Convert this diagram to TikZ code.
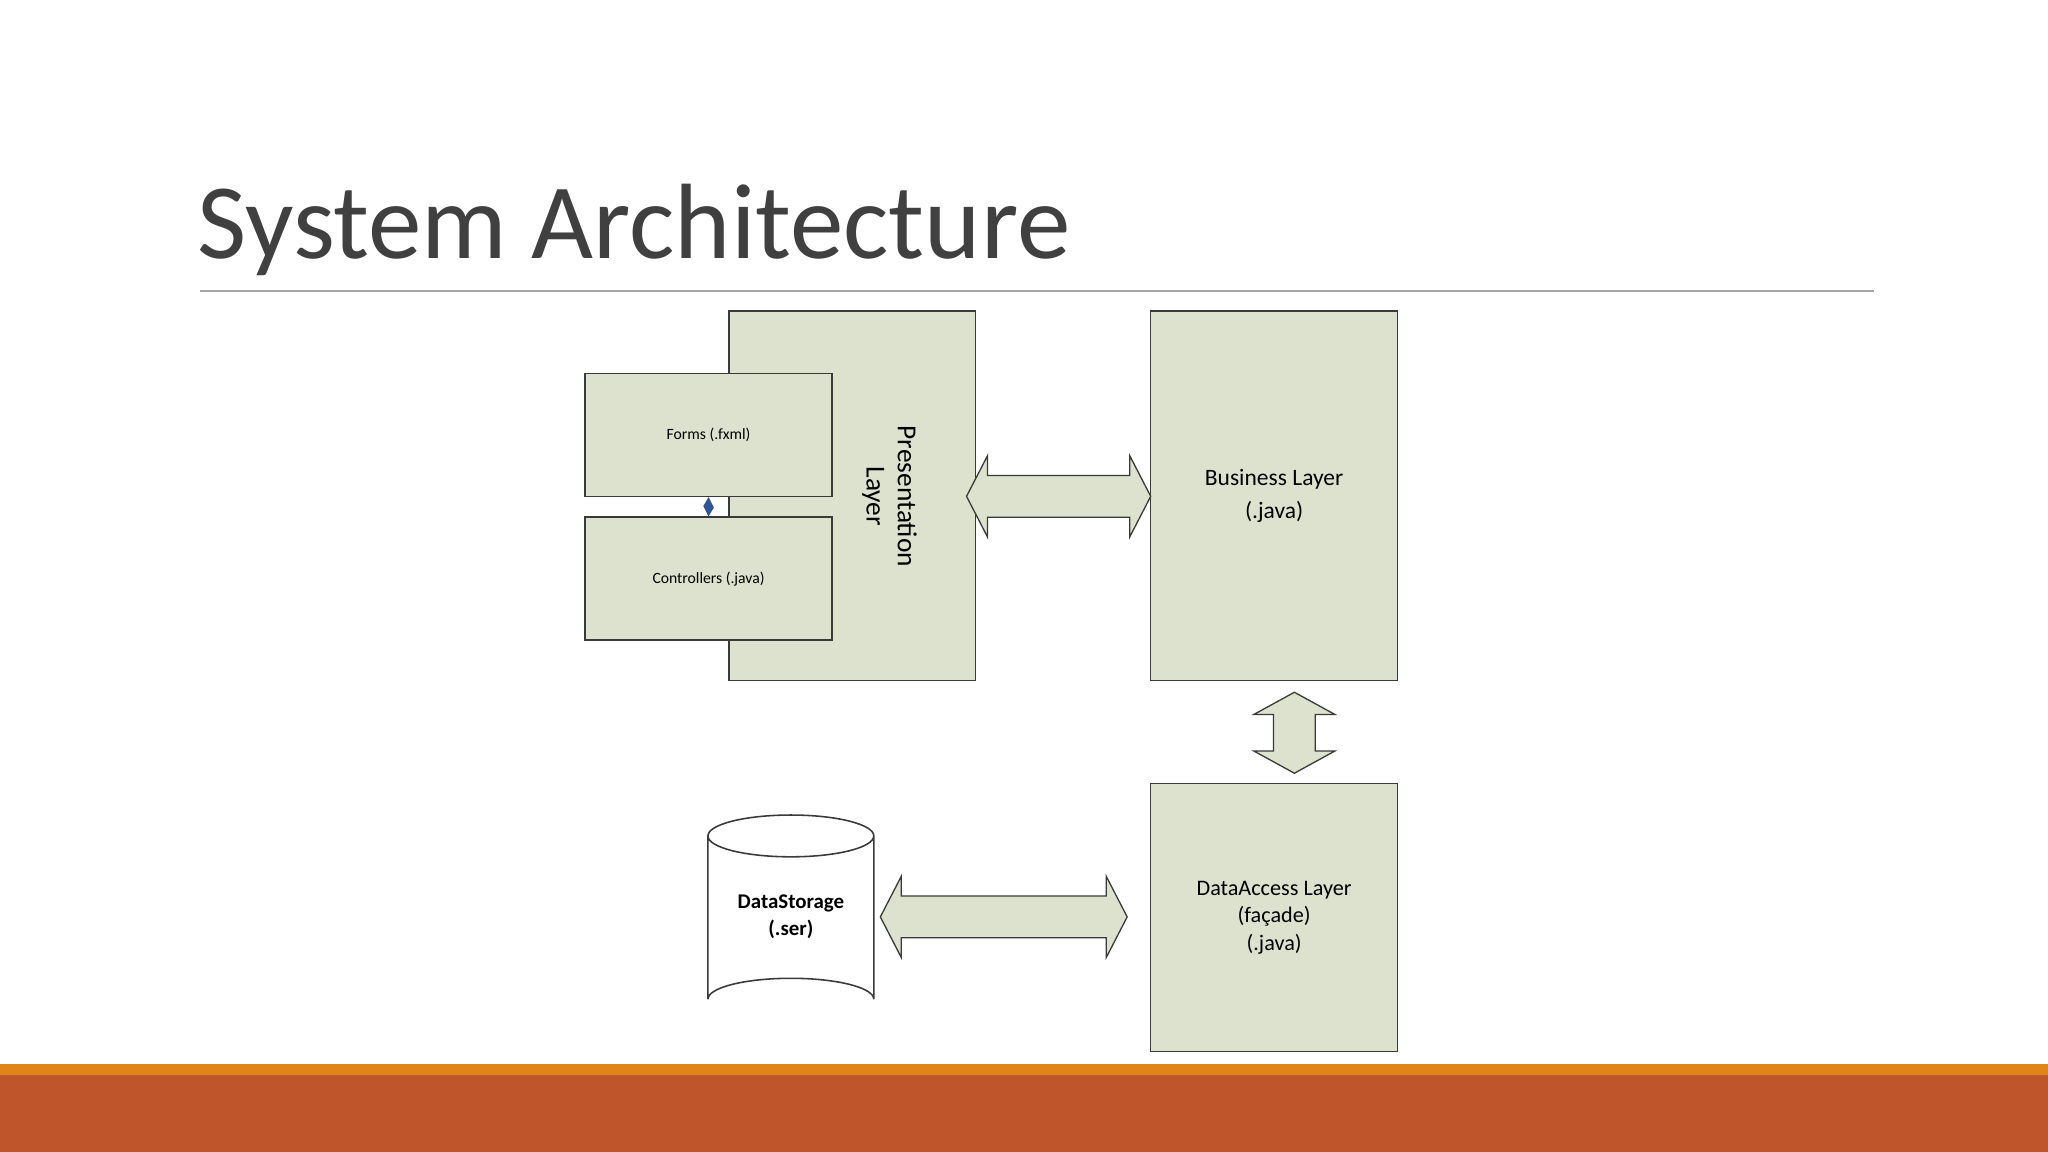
\documentclass[tikz,border=0pt]{standalone}
\usepackage{fontspec}
\setmainfont{Carlito}
\definecolor{boxfill}{HTML}{DDE2CE}
\definecolor{titlec}{HTML}{404040}
\definecolor{edge}{HTML}{3A3A3A}
\definecolor{orng}{HTML}{E08618}
\definecolor{rust}{HTML}{BE552B}
\definecolor{dia}{HTML}{2F5597}
\tikzset{
  layerbox/.style={draw=edge,fill=boxfill,line width=0.6pt,minimum width=94.5pt,inner sep=0pt,align=center},
  arr/.style={draw=edge,fill=boxfill,line width=0.5pt,line join=miter},
}
\begin{document}
\begin{tikzpicture}[x=0.5pt,y=-0.5pt]
\useasboundingbox (0,0) rectangle (1568,882);
\fill[white] (0,0) rectangle (1568,882);
% title
\node[anchor=base west,inner sep=0pt,text=titlec,font=\fontsize{41}{45}\selectfont] (title) at (151,198) {System Architecture};
\draw[gray!70,line width=0.6pt] (153,223) -- (1435,223);
% bottom bands
\fill[orng] (0,815) rectangle (1568,823);
\fill[rust] (0,823) rectangle (1568,882);
% presentation
\node[layerbox,minimum height=141.5pt] (pres) at (652.5,379.5) {};
\node[rotate=-90,font=\fontsize{10.5}{12}\selectfont,align=center] (prestxt) at (681,380) {Presentation\\Layer};
\node[layerbox,minimum height=47pt,font=\fontsize{6}{7}\selectfont] (forms) at (542.5,333) {Forms (.fxml)};
\node[layerbox,minimum height=47pt,font=\fontsize{6}{7}\selectfont] (ctrl) at (542.5,443) {Controllers (.java)};
\fill[dia] (forms.south) -- ++(4,8) -- (ctrl.north) -- ++(-4,-8) -- cycle;
% business
\node[layerbox,minimum height=141.5pt,font=\fontsize{9}{12.5}\selectfont] (bus) at (975.5,379.5) {Business Layer\\(.java)};
% data access
\node[layerbox,minimum height=102.5pt,font=\fontsize{8.5}{10.5}\selectfont] (dal) at (975.5,702.5) {DataAccess Layer\\(façade)\\(.java)};
% cylinder
\draw[edge,fill=white,line width=0.6pt] (542,640) -- (542,765) arc[start angle=180,end angle=360,x radius=63.5,y radius=16] -- (669,640) arc[start angle=0,end angle=180,x radius=63.5,y radius=16] -- cycle;
\draw[edge,line width=0.6pt] (542,640) arc[start angle=180,end angle=360,x radius=63.5,y radius=16];
\node[font=\bfseries\fontsize{8}{10.5}\selectfont,align=center] (ds) at (605.5,702) {DataStorage\\(.ser)};
% arrows
\draw[arr] (740,380) -- (756,349) -- (756,364) -- (865,364) -- (865,349) -- (881,380) -- (865,411) -- (865,396) -- (756,396) -- (756,411) -- cycle;
\draw[arr] (991,530) -- (1022,547) -- (1007,547) -- (1007,575) -- (1022,575) -- (991,592) -- (960,575) -- (975,575) -- (975,547) -- (960,547) -- cycle;
\draw[arr] (674,702) -- (690,671) -- (690,686) -- (847,686) -- (847,671) -- (863,702) -- (847,733) -- (847,718) -- (690,718) -- (690,733) -- cycle;
\end{tikzpicture}
\end{document}
